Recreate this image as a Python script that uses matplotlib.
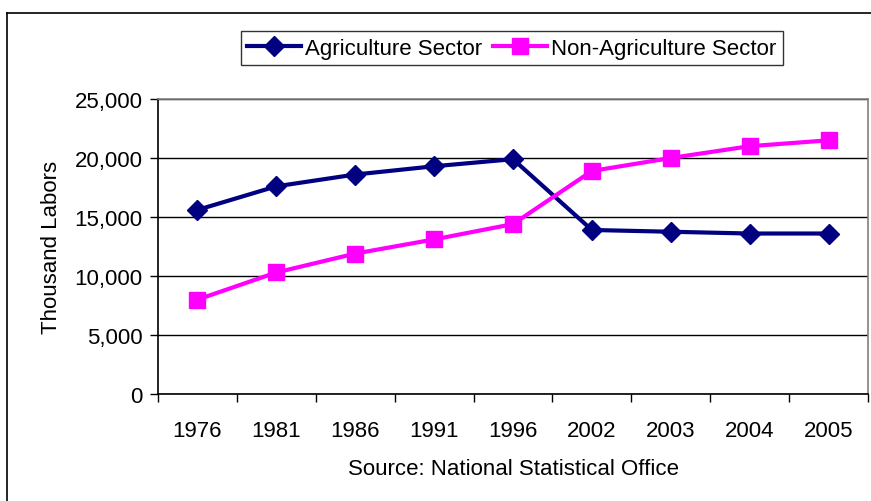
import matplotlib
matplotlib.use("Agg")
import matplotlib.pyplot as plt
from matplotlib.lines import Line2D
import numpy as np

# Labour force by sector (thousand labors)
years = ["1976", "1981", "1986", "1991", "1996", "2002", "2003", "2004", "2005"]
agriculture = [15600, 17600, 18600, 19300, 19900, 13900, 13750, 13600, 13600]
non_agriculture = [8000, 10300, 11900, 13100, 14400, 18900, 20000, 21000, 21500]

plt.rcParams['font.family'] = ['Liberation Sans', 'DejaVu Sans']
FS = 16

fig = plt.figure(figsize=(8.71, 5.02), dpi=100)
ax = fig.add_axes([158 / 871, 107 / 502, 710 / 871, 295 / 502])

x = np.arange(len(years))
ax.plot(x, agriculture, color="#000080", linewidth=3, marker="D",
        markersize=10, label="Agriculture Sector", zorder=3)
ax.plot(x, non_agriculture, color="#FF00FF", linewidth=3, marker="s",
        markersize=11, label="Non-Agriculture Sector", zorder=3)

ax.set_xlim(-0.5, len(years) - 0.5)
ax.set_ylim(0, 25000)
ax.set_yticks(range(0, 25001, 5000))
ax.set_yticklabels([f"{v:,}" for v in range(0, 25001, 5000)], fontsize=FS)
ax.set_xticks(x)
ax.set_xticklabels(years, fontsize=FS)
ax.set_xticks(np.arange(-0.5, len(years)), minor=True)
ax.tick_params(axis="x", which="major", length=0, pad=19)
ax.tick_params(axis="x", which="minor", length=6, width=1, direction="out")
ax.tick_params(axis="y", length=6, width=1, direction="out", pad=5)

ax.yaxis.grid(True, color="black", linewidth=1)
ax.set_axisbelow(True)
for side in ("left", "bottom"):
    ax.spines[side].set_color("black")
    ax.spines[side].set_linewidth(1.2)
for side in ("top", "right"):
    ax.spines[side].set_color("#808080")
    ax.spines[side].set_linewidth(1.2)

ax.set_ylabel("Thousand Labors", fontsize=FS, labelpad=9)
ax.set_xlabel("Source: National Statistical Office", fontsize=FS, labelpad=12)

leg = fig.legend(loc="center", bbox_to_anchor=(512 / 871, 1 - 49 / 502), ncol=2,
                 fontsize=FS, frameon=True, fancybox=False, edgecolor="black",
                 handlelength=2.4, handletextpad=0.2, columnspacing=0.5,
                 borderpad=0.3, borderaxespad=0)
leg.get_frame().set_linewidth(1)

# outer chart frame (only left and top visible)
fig.add_artist(Line2D([7 / 871, 7 / 871], [0, 1 - 14 / 502], color="black",
                      linewidth=1.2, transform=fig.transFigure))
fig.add_artist(Line2D([7 / 871, 1], [1 - 14 / 502, 1 - 14 / 502], color="black",
                      linewidth=1.2, transform=fig.transFigure))

fig.savefig("out.png", dpi=100)
